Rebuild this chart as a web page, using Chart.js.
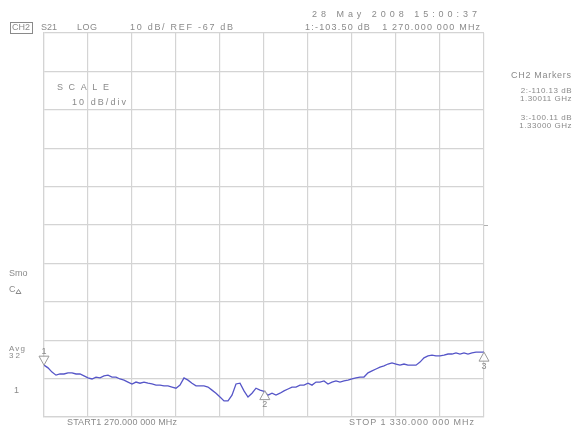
<!DOCTYPE html>
<html>
<head>
<meta charset="utf-8">
<title>CH2 S21 LOG</title>
<script src="https://cdn.jsdelivr.net/npm/chart.js@4/dist/chart.umd.min.js"></script>
<style>
  html, body { margin: 0; padding: 0; background: #ffffff; }
  #wrap { position: relative; width: 576px; height: 429px; }
  canvas { display: block; }
</style>
</head>
<body>
<div id="wrap"><canvas id="c" width="576" height="429"></canvas></div>
<script>
// Sweep settings (linear sweep, 111 points)
const startMHz = 1270;
const stopMHz = 1330;
const refDb = -67;
const scaleDbPerDiv = 10;

// Measured S21 trace, dB, one value per sweep point from start to stop
const s21Db = [
  -103.5, -104.2, -105.3, -106.1, -105.8, -105.8, -105.5, -105.5, -105.8, -105.8,
  -106.3, -106.8, -107.1, -106.6, -106.8, -106.3, -106.1, -106.6, -106.6, -107.1,
  -107.4, -107.9, -108.4, -107.9, -108.2, -107.9, -108.2, -108.4, -108.7, -108.7,
  -108.9, -108.9, -109.2, -109.5, -108.7, -106.8, -107.4, -108.2, -108.9, -108.9,
  -108.9, -109.2, -110.0, -110.8, -111.8, -112.8, -112.8, -111.3, -108.4, -108.2,
  -110.2, -111.8, -110.8, -109.5, -110.0, -110.3, -111.3, -110.8, -111.3, -110.8,
  -110.2, -109.7, -109.2, -109.2, -108.7, -108.7, -108.2, -108.7, -107.9, -107.9,
  -107.6, -108.4, -107.9, -107.6, -107.9, -107.6, -107.4, -107.1, -106.8, -106.6,
  -106.6, -105.5, -105.0, -104.5, -104.0, -103.7, -103.2, -102.9, -103.2, -103.5,
  -103.2, -103.5, -103.5, -103.5, -102.7, -101.6, -101.1, -100.9, -101.1, -101.1,
  -100.9, -100.6, -100.6, -100.3, -100.6, -100.3, -100.6, -100.3, -100.1, -100.1,
  -100.11
];

// Markers
const markerIds = ['1', '2', '3'];
const markerMHz = [1270.0, 1300.11, 1330.0];
const markerDb = [-103.50, -110.13, -100.11];

// Sweep frequency of each trace point
const stepMHz = (stopMHz - startMHz) / (s21Db.length - 1);
const tracePoints = s21Db.map((v, i) => ({ x: startMHz + i * stepMHz, y: v }));

const TEXT = '#8a8a8a';
const FONT = '9px "Liberation Sans", "DejaVu Sans", sans-serif';
const FONT_SMALL = '8px "Liberation Sans", "DejaVu Sans", sans-serif';

// Draw text left-aligned and spread to a given width
function spread(ctx, str, x, y, width) {
  ctx.letterSpacing = '0px';
  const n = str.length;
  const w = ctx.measureText(str).width;
  const ls = n > 1 ? Math.max(0, (width - w) / (n - 1)) : 0;
  ctx.letterSpacing = ls.toFixed(2) + 'px';
  ctx.textAlign = 'left';
  ctx.fillText(str, x, y);
  ctx.letterSpacing = '0px';
}
function right(ctx, str, x, y, ls) {
  ctx.letterSpacing = (ls || 0) + 'px';
  ctx.textAlign = 'right';
  ctx.fillText(str, x, y);
  ctx.letterSpacing = '0px';
  ctx.textAlign = 'left';
}

const analyzerText = {
  id: 'analyzerText',
  afterDraw(chart) {
    const ctx = chart.ctx;
    const xs = chart.scales.x, ys = chart.scales.y;
    ctx.save();
    ctx.fillStyle = TEXT;
    ctx.strokeStyle = TEXT;
    ctx.font = FONT;
    ctx.textBaseline = 'middle';

    // Header line
    spread(ctx, 'CH2', 12, 28, 18);
    ctx.lineWidth = 1;
    ctx.strokeRect(10.5, 22.5, 22, 11);
    spread(ctx, 'S21', 41, 28, 15);
    spread(ctx, 'LOG', 77, 28, 20);
    spread(ctx, scaleDbPerDiv + ' dB/ REF ' + refDb + ' dB', 130, 28, 103);
    spread(ctx, '28 May 2008 15:00:37', 312, 15, 165);
    spread(ctx, '1:' + markerDb[0].toFixed(2) + ' dB   1 270.000 000 MHz', 305, 28, 175);

    // Marker table
    spread(ctx, 'CH2 Markers', 511, 76, 60);
    ctx.font = FONT_SMALL;
    right(ctx, '2:' + markerDb[1].toFixed(2) + ' dB', 572, 91, 0.5);
    right(ctx, (markerMHz[1] / 1000).toFixed(5) + ' GHz', 572, 98.5, 0.5);
    right(ctx, '3:' + markerDb[2].toFixed(2) + ' dB', 572, 118, 0.5);
    right(ctx, (markerMHz[2] / 1000).toFixed(5) + ' GHz', 572, 125.5, 0.5);
    ctx.font = FONT;

    // Scale note inside the grid
    spread(ctx, 'SCALE', 57, 88, 52);
    spread(ctx, scaleDbPerDiv + ' dB/div', 72, 103, 54);

    // Left status column
    spread(ctx, 'Smo', 9, 274, 16);
    ctx.fillText('C', 9, 290);
    ctx.beginPath();
    ctx.moveTo(16, 293.5); ctx.lineTo(21, 293.5); ctx.lineTo(18.5, 289.5); ctx.closePath();
    ctx.stroke();
    ctx.font = FONT_SMALL;
    spread(ctx, 'Avg', 9, 348.5, 16);
    spread(ctx, '32', 9, 355.5, 11);
    ctx.font = FONT;
    ctx.fillText('1', 14, 391);

    // Start / stop
    spread(ctx, 'START1 270.000 000 MHz', 67, 423, 110);
    spread(ctx, 'STOP 1 330.000 000 MHz', 349, 423, 125);

    // Reference position tick on the right edge
    const yr = Math.round(ys.getPixelForValue(refDb)) + 0.5;
    ctx.strokeStyle = '#b0b0b0';
    ctx.beginPath();
    ctx.moveTo(xs.right, yr); ctx.lineTo(xs.right + 4, yr);
    ctx.stroke();
    ctx.restore();
  },
  afterDatasetsDraw(chart) {
    const ctx = chart.ctx;
    const xs = chart.scales.x, ys = chart.scales.y;
    ctx.save();
    ctx.font = FONT;
    ctx.textBaseline = 'middle';
    ctx.textAlign = 'center';
    ctx.lineWidth = 1;
    markerIds.forEach((id, i) => {
      const px = xs.getPixelForValue(markerMHz[i]);
      const py = ys.getPixelForValue(markerDb[i]);
      const down = i === 0;
      ctx.beginPath();
      if (down) {
        ctx.moveTo(px, py); ctx.lineTo(px - 5, py - 9); ctx.lineTo(px + 5, py - 9);
      } else {
        ctx.moveTo(px, py); ctx.lineTo(px - 5, py + 9); ctx.lineTo(px + 5, py + 9);
      }
      ctx.closePath();
      ctx.fillStyle = 'rgba(255,255,255,0.85)';
      ctx.fill();
      ctx.strokeStyle = '#9a9a9a';
      ctx.stroke();
      ctx.fillStyle = TEXT;
      ctx.fillText(id, px, down ? py - 14 : py + 14);
    });
    ctx.restore();
  }
};

new Chart(document.getElementById('c'), {
  type: 'line',
  data: {
    datasets: [{
      label: 'S21',
      data: tracePoints,
      borderColor: '#5656c8',
      borderWidth: 1.3,
      pointRadius: 0,
      tension: 0,
      fill: false
    }]
  },
  options: {
    responsive: false,
    animation: false,
    events: [],
    layout: { padding: { left: 44, right: 92, top: 33, bottom: 12 } },
    plugins: { legend: { display: false }, tooltip: { enabled: false } },
    scales: {
      x: {
        type: 'linear',
        min: startMHz,
        max: stopMHz,
        ticks: { display: false, stepSize: (stopMHz - startMHz) / 10 },
        grid: { color: '#d4d4d4', lineWidth: 1.2, drawTicks: false },
        border: { display: true, color: '#d4d4d4', width: 1.2 }
      },
      y: {
        type: 'linear',
        min: refDb - 5 * scaleDbPerDiv,
        max: refDb + 5 * scaleDbPerDiv,
        ticks: { display: false, stepSize: scaleDbPerDiv },
        grid: { color: '#d4d4d4', lineWidth: 1.2, drawTicks: false },
        border: { display: true, color: '#d4d4d4', width: 1.2 }
      }
    }
  },
  plugins: [analyzerText]
});
</script>
</body>
</html>
